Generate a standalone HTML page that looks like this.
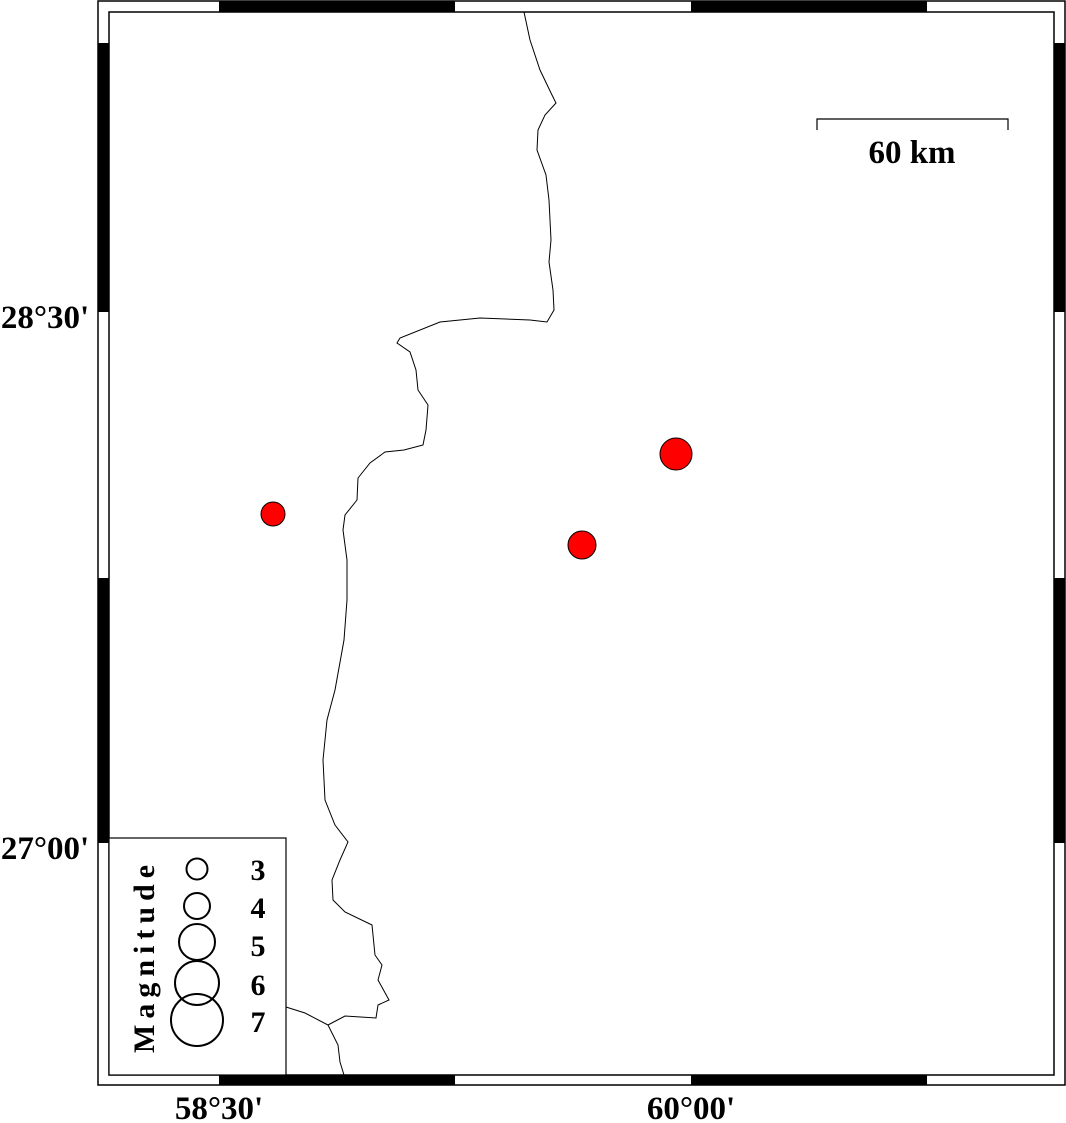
<!DOCTYPE html>
<html><head><meta charset="utf-8"><style>
html,body{margin:0;padding:0;background:#fff;}
svg{display:block;}
text{font-family:"Liberation Serif",serif;font-weight:bold;}
</style></head><body>
<svg width="1066" height="1123" viewBox="0 0 1066 1123" xmlns="http://www.w3.org/2000/svg">
<rect width="1066" height="1123" fill="#fff"/>
<g fill="#000">
<rect x="219" y="1" width="236" height="11"/><rect x="691" y="1" width="236" height="11"/>
<rect x="219" y="1075" width="236" height="10"/><rect x="691" y="1075" width="236" height="10"/>
<rect x="98" y="43" width="11" height="269"/><rect x="98" y="578" width="11" height="265"/>
<rect x="1054" y="43" width="11" height="269"/><rect x="1054" y="578" width="11" height="265"/>
</g>
<g fill="none" stroke="#000" stroke-width="1.5">
<rect x="98" y="1" width="967" height="1084"/>
<rect x="109" y="12" width="945" height="1063"/>
</g>
<path fill="none" stroke="#000" stroke-width="1" d="M524,12 L530,40 L540,70 L552,95 L556,103 L545,115 L538,130 L537,150 L546,175 L549,200 L551,240 L549,262 L553,290 L554,310 L547,322 L530,320 L480,318 L440,322 L400,338 L397,343 L410,352 L416,370 L418,390 L428,405 L426,430 L423,445 L404,450 L385,452 L370,463 L358,478 L357,500 L345,515 L343,530 L347,560 L347,600 L344,640 L335,690 L327,720 L323,760 L325,800 L335,825 L348,842 L340,860 L332,880 L333,900 L345,912 L372,925 L375,955 L382,965 L378,980 L389,1000 L378,1005 L376,1018 L345,1016 L328,1025"/>
<path fill="none" stroke="#000" stroke-width="1" d="M286,1007 L305,1013 L328,1025 L338,1045 L340,1062 L344,1075"/>
<g fill="#f00" stroke="#000" stroke-width="1">
<circle cx="273" cy="514" r="12"/>
<circle cx="582" cy="545" r="14"/>
<circle cx="676" cy="454" r="16"/>
</g>
<path d="M817,130 V119 H1008 V130" fill="none" stroke="#000" stroke-width="1.2"/>
<text x="912" y="163" font-size="33" text-anchor="middle">60 km</text>
<text x="45" y="328" font-size="33" text-anchor="middle">28°30'</text>
<text x="45" y="859" font-size="33" text-anchor="middle">27°00'</text>
<text x="219" y="1119" font-size="33" text-anchor="middle">58°30'</text>
<text x="691" y="1119" font-size="33" text-anchor="middle">60°00'</text>
<rect x="109" y="838" width="177" height="237" fill="#fff" stroke="#000" stroke-width="1.2"/>
<g fill="none" stroke="#000" stroke-width="2">
<circle cx="197" cy="869" r="10.5"/>
<circle cx="197" cy="906" r="13"/>
<circle cx="197" cy="942" r="18"/>
<circle cx="197" cy="983" r="22"/>
<circle cx="197" cy="1020" r="26"/>
</g>
<g font-size="30" text-anchor="middle">
<text x="258" y="880">3</text>
<text x="258" y="918">4</text>
<text x="258" y="956">5</text>
<text x="258" y="995">6</text>
<text x="258" y="1032">7</text>
</g>
<text transform="translate(154,956) rotate(-90)" font-size="30" text-anchor="middle" letter-spacing="6">Magnitude</text>
</svg>
</body></html>
